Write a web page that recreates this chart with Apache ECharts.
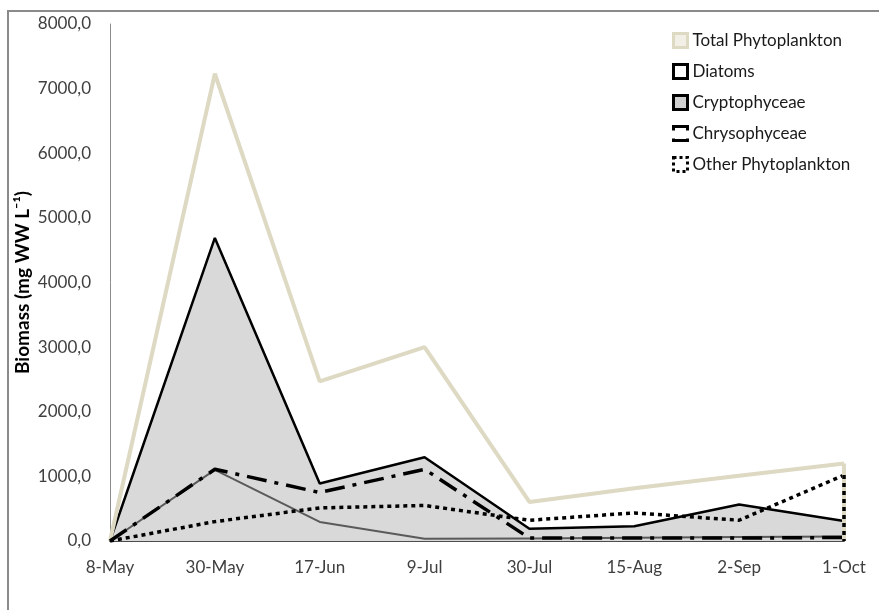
<!DOCTYPE html>
<html>
<head>
<meta charset="utf-8">
<script src="https://cdn.jsdelivr.net/npm/echarts@6/dist/echarts.min.js"></script>
<style>
  html, body { margin: 0; padding: 0; background: #fff; }
  #chart { width: 879px; height: 610px; }
</style>
</head>
<body>
<div id="chart"></div>
<script>
var dates = ['8-May', '30-May', '17-Jun', '9-Jul', '30-Jul', '15-Aug', '2-Sep', '1-Oct'];
var totalPhyto = [0, 7230, 2470, 3000, 605, 815, 1010, 1200];
var diatoms = [0, 1100, 295, 35, 40, 50, 60, 70];
var cryptophyceae = [0, 4690, 890, 1295, 190, 228, 565, 308];
var chrysophyceae = [0, 1110, 750, 1110, 45, 45, 45, 55];
var otherPhyto = [0, 300, 512, 550, 321, 435, 321, 1020];
var yTicks = [0, 8000, 1000];

var font = 'Lato';

// right-hand edge of each area, like the excel area outline
function edge(arr, style) {
    return {
        symbol: 'none',
        silent: true,
        label: { show: false },
        lineStyle: Object.assign({}, style),
        emphasis: { disabled: true },
        data: [[{ coord: ['1-Oct', arr[arr.length - 1]] }, { coord: ['1-Oct', 0] }]]
    };
}

var totalStyle = { color: '#ddd9c3', width: 4, type: 'solid' };
var cryptoStyle = { color: '#000', width: 2.5, type: 'solid' };
var otherStyle = { color: '#000', width: 3.5, type: [4, 4] };
var chrysoStyle = { color: '#000', width: 3.5, type: [20, 8, 4, 8] };
var diatomStyle = { color: '#5a5a5a', width: 2, type: 'solid' };

var option = {
    animation: false,
    backgroundColor: '#fff',
    textStyle: { fontFamily: font },
    grid: { left: 110, right: 35, top: 24, bottom: 69 },
    legend: {
        orient: 'vertical',
        left: 672,
        top: 32,
        padding: 0,
        itemWidth: 14,
        itemHeight: 14,
        itemGap: 14,
        selectedMode: false,
        textStyle: { fontFamily: font, fontSize: 17, color: '#1a1a1a' },
        data: [
            { name: 'Total Phytoplankton', icon: 'rect', itemStyle: { color: '#f1efe6', borderColor: '#ddd9c3', borderWidth: 3 } },
            { name: 'Diatoms', icon: 'rect', itemStyle: { color: '#fff', borderColor: '#000', borderWidth: 3 } },
            { name: 'Cryptophyceae', icon: 'rect', itemStyle: { color: '#d0d0d0', borderColor: '#000', borderWidth: 3 } },
            { name: 'Chrysophyceae', icon: 'rect', itemStyle: { color: '#fff', borderColor: '#000', borderWidth: 3, borderType: [18, 8] } },
            { name: 'Other Phytoplankton', icon: 'rect', itemStyle: { color: '#fff', borderColor: '#000', borderWidth: 3, borderType: [3, 3] } }
        ]
    },
    xAxis: {
        type: 'category',
        data: dates,
        boundaryGap: false,
        axisLine: { lineStyle: { color: '#4d4d4d', width: 2 } },
        axisTick: { show: false },
        axisLabel: { color: '#404040', fontSize: 17, margin: 18, fontFamily: font },
        splitLine: { show: false }
    },
    yAxis: {
        type: 'value',
        min: yTicks[0],
        max: yTicks[1],
        interval: yTicks[2],
        name: 'Biomass (mg WW L\u207B\u00B9)',
        nameLocation: 'middle',
        nameGap: 78,
        nameMoveOverlap: false,
        nameTextStyle: { fontFamily: font, fontSize: 19, fontWeight: 'bold', color: '#000' },
        axisLine: { show: true, lineStyle: { color: '#8c8c8c', width: 1 } },
        axisTick: { show: false },
        splitLine: { show: false },
        axisLabel: {
            color: '#404040',
            fontSize: 17,
            margin: 19,
            fontFamily: font,
            formatter: function (v) { return v.toFixed(1).replace('.', ','); }
        }
    },
    graphic: [{
        type: 'polyline',
        shape: { points: [[8, 610], [8, 11], [879, 11]] },
        style: { stroke: '#8a8a8a', lineWidth: 2, fill: null },
        silent: true
    }],
    series: [
        {
            name: 'Cryptophyceae',
            type: 'line',
            data: cryptophyceae,
            symbol: 'none',
            lineStyle: cryptoStyle,
            areaStyle: { color: '#d9d9d9', opacity: 1 },
            itemStyle: { color: '#000' },
            markLine: edge(cryptophyceae, cryptoStyle)
        },
        {
            name: 'Total Phytoplankton',
            type: 'line',
            data: totalPhyto,
            symbol: 'none',
            lineStyle: totalStyle,
            itemStyle: { color: '#ddd9c3' },
            markLine: edge(totalPhyto, totalStyle)
        },
        {
            name: 'Diatoms',
            type: 'line',
            data: diatoms,
            symbol: 'none',
            lineStyle: diatomStyle,
            itemStyle: { color: '#000' }
        },
        {
            name: 'Other Phytoplankton',
            type: 'line',
            data: otherPhyto,
            symbol: 'none',
            lineStyle: otherStyle,
            itemStyle: { color: '#000' },
            markLine: edge(otherPhyto, otherStyle)
        },
        {
            name: 'Chrysophyceae',
            type: 'line',
            data: chrysophyceae,
            symbol: 'none',
            lineStyle: chrysoStyle,
            itemStyle: { color: '#000' }
        }
    ]
};

var myChart = echarts.init(document.getElementById('chart'));
myChart.setOption(option);
</script>
</body>
</html>
